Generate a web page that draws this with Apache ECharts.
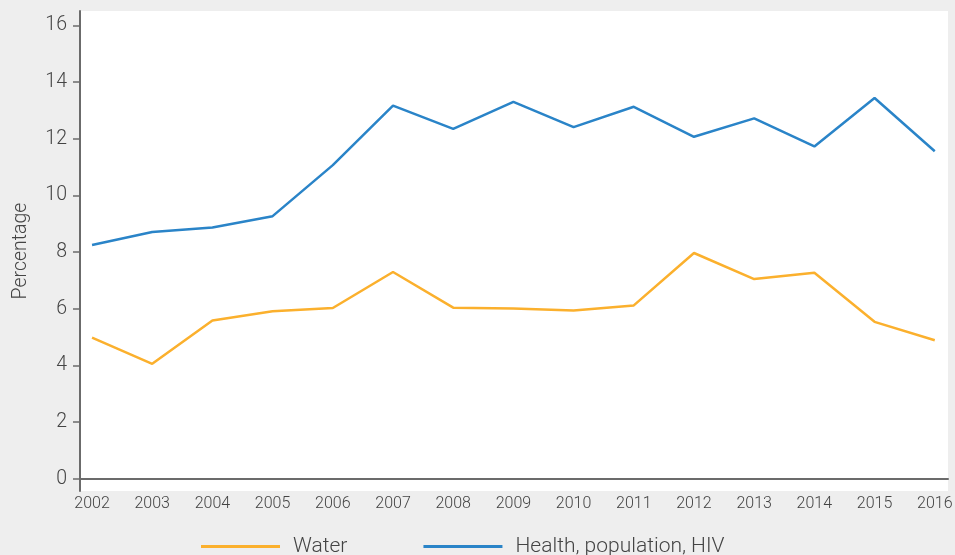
<!DOCTYPE html>
<html>
<head>
<meta charset="utf-8">
<script src="https://cdn.jsdelivr.net/npm/echarts@6/dist/echarts.min.js"></script>
<style>
  html, body { margin: 0; padding: 0; background: #eeeeee; }
  #chart { width: 955px; height: 555px; }
</style>
</head>
<body>
<div id="chart"></div>
<script>
// Share of spending by sector, 2002–2016 (percent)
const years = [2002, 2003, 2004, 2005, 2006, 2007, 2008, 2009, 2010, 2011, 2012, 2013, 2014, 2015, 2016];
const water = [4.98, 4.06, 5.59, 5.91, 6.03, 7.30, 6.04, 6.01, 5.94, 6.12, 7.97, 7.05, 7.27, 5.54, 4.89];
const health = [8.25, 8.71, 8.87, 9.27, 11.07, 13.17, 12.35, 13.30, 12.41, 13.13, 12.07, 12.72, 11.73, 13.44, 11.56];
const yTicks = [0, 2, 4, 6, 8, 10, 12, 14, 16];
const seriesNames = ['Water', 'Health, population, HIV'];
const seriesColors = ['#fbb02d', '#2a84c8'];

const font = 'Roboto, "Noto Sans", sans-serif';
const pairs = vals => years.map((y, i) => [y, vals[i]]);

const chart = echarts.init(document.getElementById('chart'), null, { renderer: 'canvas' });
chart.setOption({
  backgroundColor: '#eeeeee',
  animation: false,
  textStyle: { fontFamily: font },
  grid: {
    left: 80, right: 7, top: 11, bottom: 64,
    outerBoundsMode: 'none',
    show: true, backgroundColor: '#ffffff', borderWidth: 0
  },
  legend: {
    left: 196, top: 531,
    icon: 'rect', itemWidth: 79, itemHeight: 3, itemGap: 76,
    textStyle: { fontFamily: font, fontWeight: 300, fontSize: 21, color: '#444', padding: [0, 0, 0, 8] },
    data: seriesNames
  },
  xAxis: {
    type: 'value',
    min: 2001.8, max: 2016.22,
    splitLine: { show: false },
    axisLine: { show: true, lineStyle: { color: '#6b6b6b', width: 2 } },
    axisTick: { show: false },
    axisLabel: {
      customValues: years,
      margin: 5,
      fontFamily: font, fontWeight: 300, fontSize: 16, color: '#444',
      formatter: v => String(v)
    }
  },
  yAxis: {
    type: 'value',
    min: -0.43, max: 16.51,
    name: 'Percentage',
    nameLocation: 'middle',
    nameGap: 49,
    nameTextStyle: { fontFamily: font, fontWeight: 300, fontSize: 19.5, color: '#444' },
    splitLine: { show: false },
    axisLine: { show: true, lineStyle: { color: '#6b6b6b', width: 2 } },
    axisTick: { show: true, customValues: yTicks, length: 7, lineStyle: { color: '#6b6b6b', width: 1.5 } },
    axisLabel: {
      customValues: yTicks,
      margin: 13,
      fontFamily: font, fontWeight: 300, fontSize: 19.5, color: '#444'
    }
  },
  series: [
    {
      name: seriesNames[0], type: 'line', data: pairs(water),
      symbol: 'none', color: seriesColors[0],
      lineStyle: { width: 2.5, color: seriesColors[0] }
    },
    {
      name: seriesNames[1], type: 'line', data: pairs(health),
      symbol: 'none', color: seriesColors[1],
      lineStyle: { width: 2.5, color: seriesColors[1] }
    }
  ]
});
</script>
</body>
</html>
